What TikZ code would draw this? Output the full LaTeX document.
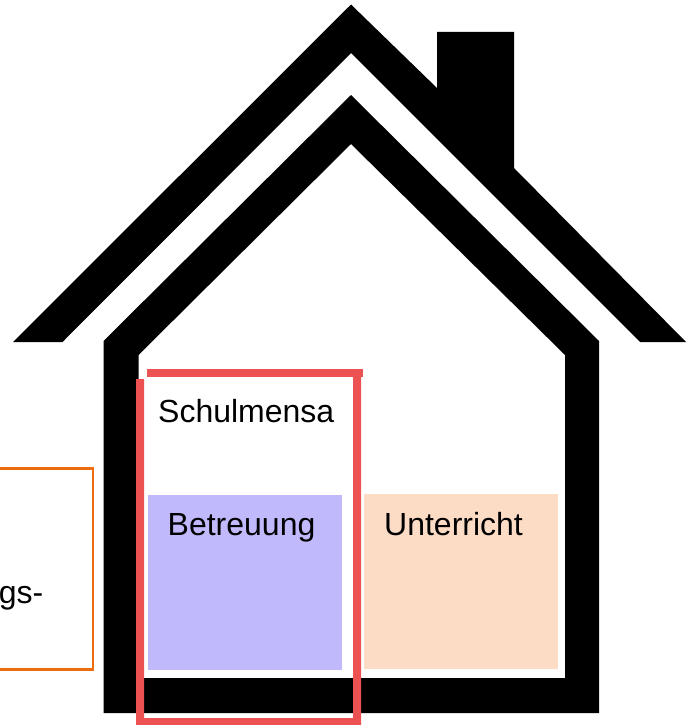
\documentclass[tikz,border=0pt]{standalone}
\usepackage{fontspec}
\setmainfont{Liberation Sans}
\definecolor{redframe}{HTML}{EC5252}
\definecolor{bluebox}{HTML}{C0BAFC}
\definecolor{peachbox}{HTML}{FDDCC5}
\definecolor{orangebox}{HTML}{EE6C0E}
\tikzset{
  label text/.style={anchor=base west,inner sep=0pt,text=black,font=\fontsize{32}{38}\selectfont},
  area/.style={draw=none,fill=#1},
  house part/.style={fill=black,draw=none},
  red part/.style={fill=redframe,draw=none}
}
\begin{document}
\begin{tikzpicture}[x=1pt,y=-1pt]
\clip (0,0) rectangle (686,725);
\fill[white] (0,0) rectangle (686,725);
% roof with chimney
\path[house part] (351,4.5) -- (437,88) -- (437,32) -- (514,32) -- (514,168) -- (686,342) -- (640,342)
  -- (351,53) -- (62.5,342) -- (13,342) -- cycle;
% house body
\path[house part,even odd rule] (351,95) -- (599,341) -- (599,713) -- (103.5,713) -- (103.5,341) -- cycle
  (351,144) -- (138.5,355) -- (138.5,678) -- (565,678) -- (565,355) -- cycle;
% rooms
\path[area=bluebox] (148,495) rectangle (342,670);
\path[area=peachbox] (364,494) rectangle (558,669);
% orange box running off the left edge
\draw[orangebox,line width=2.4pt] (-10,468.5) -- (93,468.5) -- (93,669.5) -- (-10,669.5);
% red frame
\path[red part] (146.5,369) rectangle (363,377);
\path[red part] (136,379) -- (144,379) -- (144,718) -- (353,718) -- (353,377) -- (361,377) -- (361,725) -- (136,725) -- cycle;
% labels
\node[label text] (mensa) at (158,422) {Schulmensa};
\node[label text] (betr) at (167.5,535.5) {Betreuung};
\node[label text] (unter) at (384,535.5) {Unterricht};
\node[label text,anchor=base east] (cut) at (43.5,603) {gs-};
\end{tikzpicture}
\end{document}
